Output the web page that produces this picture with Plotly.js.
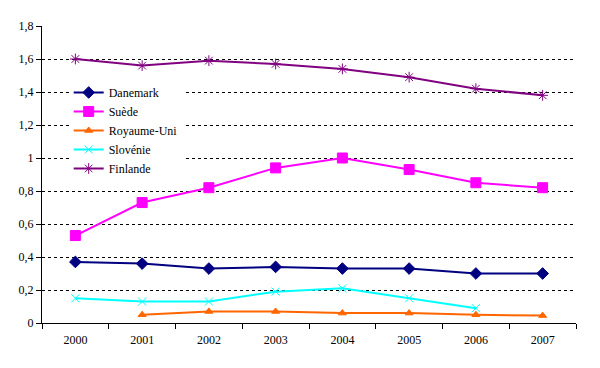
<!DOCTYPE html>
<html><head><meta charset="utf-8">
<script src="https://cdn.plot.ly/plotly-3.0.1.min.js"></script>
<style>
body{margin:0;background:#fff}
#c{width:600px;height:368px}
#c text{font-family:'Liberation Serif','Times New Roman',Times,serif !important;}
</style>
</head><body><div id="c"></div>
<script>
const years = ['2000','2001','2002','2003','2004','2005','2006','2007'];
const danemark = [0.37,0.36,0.33,0.34,0.33,0.33,0.30,0.30];
const suede = [0.53,0.73,0.82,0.94,1.00,0.93,0.85,0.82];
const royaumeUni = [null,0.05,0.07,0.07,0.06,0.06,0.05,0.045];
const slovenie = [0.15,0.13,0.13,0.19,0.21,0.15,0.09,null];
const finlande = [1.60,1.56,1.59,1.57,1.54,1.49,1.42,1.38];
const yTicks = [0,0.2,0.4,0.6,0.8,1,1.2,1.4,1.6,1.8];
const yTickLabels = ['0','0,2','0,4','0,6','0,8','1','1,2','1,4','1,6','1,8'];

const serifFamily = 'Liberation Serif, Times New Roman, Times, serif';

function tr(name, y, color, sym, size){
  return {type:'scatter', mode:'lines+markers', name:name, x:years, y:y,
    line:{color:color,width:2}, marker:{color:color,symbol:sym,size:size,line:{color:color,width:1}},
    connectgaps:false};
}
const data = [
  tr('Danemark', danemark, '#000080', 'diamond', 9),
  tr('Suède', suede, '#FF00FF', 'square', 10),
  tr('Royaume-Uni', royaumeUni, '#FF6600', 'triangle-up', 7),
  tr('Slovénie', slovenie, '#00FFFF', 'x-thin-open', 8),
  tr('Finlande', finlande, '#800080', 'asterisk-open', 9)
];
const layout = {
  width:600, height:368,
  margin:{l:42,r:24,t:26,b:45},
  paper_bgcolor:'#fff', plot_bgcolor:'#fff',
  separators:',.',
  font:{family:serifFamily, size:12, color:'#000'},
  showlegend:true,
  legend:{x:0.05, y:0.825, xanchor:'left', yanchor:'top', bgcolor:'rgba(255,255,255,1)',
    font:{family:serifFamily, size:12, color:'#000'}, itemwidth:30, tracegroupgap:0},
  xaxis:{type:'category', tickson:'boundaries', ticks:'outside', ticklen:5, tickcolor:'#000',
    ticklabelstandoff:6,
    showline:true, linecolor:'#000', linewidth:1, showgrid:false, zeroline:false,
    range:[-0.5,7.5], tickfont:{family:serifFamily, size:12, color:'#000'}},
  yaxis:{range:[0,1.8], tickmode:'array', tickvals:yTicks, ticktext:yTickLabels,
    ticks:'outside', ticklen:5, tickcolor:'#000',
    showline:true, linecolor:'#000', linewidth:1,
    showgrid:true, gridcolor:'#000', griddash:'3px,3px', gridwidth:1, zeroline:false,
    tickfont:{family:serifFamily, size:12, color:'#000'}}
};
Plotly.newPlot('c', data, layout, {displayModeBar:false});
</script></body></html>
